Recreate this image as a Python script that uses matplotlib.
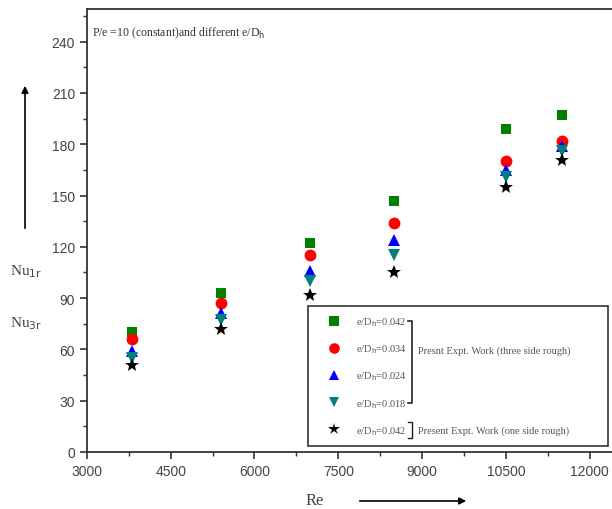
import matplotlib
matplotlib.use('Agg')
import matplotlib.pyplot as plt
from matplotlib.lines import Line2D

re_vals = [3800, 5400, 7000, 8500, 10500, 11500]
nu_042 = [70, 93, 122, 147, 189, 197]
nu_034 = [66, 87, 115, 134, 170, 182]
nu_024 = [59, 81, 106, 124, 165, 179]
nu_018 = [55, 77, 100, 115, 161, 176]
nu_one = [51, 72, 92, 105, 155, 171]

labels = ['0.042', '0.034', '0.024', '0.018', '0.042']
series = [nu_042, nu_034, nu_024, nu_018, nu_one]
colors = ['#008000', '#ff0000', '#0000ff', '#008080', '#000000']
markers = ['s', 'o', '^', 'v', '*']
sizes = [7.5, 8.5, 8.5, 8.5, 10]

serif = 'Liberation Serif'
sans = 'Liberation Sans'

fig = plt.figure(figsize=(6.12, 5.10), dpi=100)
ax = fig.add_axes([0.142, 0.112, 0.858, 0.868])

handles = []
for ys, c, m, s, lab in zip(series, colors, markers, sizes, labels):
    h, = ax.plot(re_vals, ys, linestyle='none', marker=m, color=c, markersize=s,
                 markeredgewidth=0, label=r'e/D$_{\rm h}$=' + lab)
    handles.append(h)

ax.set_xlim(3000, 12400)
ax.set_ylim(0, 259)
ax.set_xticks([3000, 4500, 6000, 7500, 9000, 10500, 12000])
ax.set_xticks([3750, 5250, 6750, 8250, 9750, 11250], minor=True)
ax.set_yticks(range(0, 241, 30))
ax.set_yticks(range(15, 256, 30), minor=True)
ax.tick_params(direction='out', length=5, width=1.2, labelsize=10,
               labelcolor='#444444', color='#333333')
ax.tick_params(which='minor', direction='out', length=3, width=1.0, color='#333333')
for t in ax.get_xticklabels() + ax.get_yticklabels():
    t.set_fontfamily(sans)
ax.spines['right'].set_visible(False)
for sp in ['left', 'bottom', 'top']:
    ax.spines[sp].set_linewidth(1.3)
    ax.spines[sp].set_color('#333333')

ax.text(0.01, 0.965, r'P/e =10 (constant)and different e/D$_{\rm h}$', transform=ax.transAxes,
        fontsize=8.5, family=serif, color='#333333', va='top')

leg = ax.legend(handles=handles, loc='lower left', bbox_to_anchor=(0.421, 0.013, 0.571, 0.318),
                mode='expand', prop={'family': serif, 'size': 7.5}, labelspacing=1.38,
                handletextpad=0.5, borderpad=0.9, handlelength=3.2, fancybox=False,
                edgecolor='#333333', framealpha=1, borderaxespad=0, markerscale=0.9)
leg.get_frame().set_linewidth(1.2)
for t in leg.get_texts():
    t.set_color('#555555')

# bracket and group labels
bx = (412 - 87) / 525
y1 = (453 - 322) / 443
y4 = (453 - 404) / 443
ax.add_line(Line2D([bx - 0.008, bx, bx, bx - 0.008], [y1, y1, y4, y4], transform=ax.transAxes,
                   color='#222222', linewidth=1.2, clip_on=False, zorder=6))
ax.text(bx + 0.012, (453 - 351) / 443, 'Presnt Expt. Work (three side rough)', transform=ax.transAxes,
        fontsize=7.5, family=serif, color='#555555', va='center', zorder=6)
y5 = (453 - 431) / 443
ax.add_line(Line2D([bx - 0.008, bx, bx, bx - 0.008], [y5 + 0.018, y5 + 0.018, y5 - 0.018, y5 - 0.018],
                   transform=ax.transAxes, color='#222222', linewidth=1.0, clip_on=False, zorder=6))
ax.text(bx + 0.012, y5, 'Present Expt. Work (one side rough)', transform=ax.transAxes,
        fontsize=7.5, family=serif, color='#555555', va='center', zorder=6)

# axis labels and arrows
fig.text(10 / 612, 1 - 272 / 510, r'Nu$_{\rm 1r}$', fontsize=11, family=serif, color='#444444', va='center')
fig.text(10 / 612, 1 - 324 / 510, r'Nu$_{\rm 3r}$', fontsize=11, family=serif, color='#444444', va='center')
fig.text(306 / 612, 1 - 501 / 510, 'Re', fontsize=12, family=serif, color='#444444', va='center')
fig.add_artist(plt.matplotlib.patches.FancyArrowPatch((25 / 612, 1 - 232 / 510), (25 / 612, 1 - 84 / 510),
               transform=fig.transFigure, arrowstyle='-|>', mutation_scale=10, color='black', linewidth=1.2))
fig.add_artist(plt.matplotlib.patches.FancyArrowPatch((357 / 612, 1 - 502 / 510), (469 / 612, 1 - 502 / 510),
               transform=fig.transFigure, arrowstyle='-|>', mutation_scale=10, color='black', linewidth=1.2))

fig.savefig('out.png', dpi=100)
